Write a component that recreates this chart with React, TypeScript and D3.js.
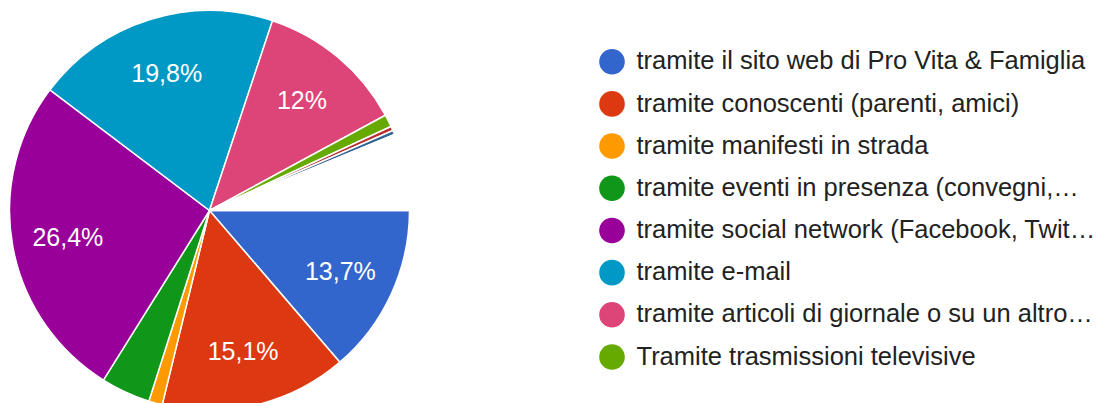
import React from "react";
import * as d3 from "d3";

const categories = [
  "tramite il sito web di Pro Vita & Famiglia",
  "tramite conoscenti (parenti, amici)",
  "tramite manifesti in strada",
  "tramite eventi in presenza (convegni,…",
  "tramite social network (Facebook, Twit…",
  "tramite e-mail",
  "tramite articoli di giornale o su un altro…",
  "Tramite trasmissioni televisive",
  "altro 1",
  "altro 2",
  "altre risposte",
];
const values = [13.7, 15.1, 1.1, 4.0, 26.4, 19.8, 12.0, 1.0, 0.35, 0.35, 6.2];
const colors = [
  "#3366cc", "#dc3912", "#ff9900", "#109618", "#990099",
  "#0099c6", "#dd4477", "#66aa00", "#b82e2e", "#316395", "#ffffff",
];
const legendCount = 8;

const W = 1101;
const H = 403;
const cx = 209.5;
const cy = 210.5;
const R = 200;

function fmt(v: number): string {
  const s = (Math.round(v * 10) / 10).toFixed(1).replace(/\.0$/, "");
  return s.replace(".", ",") + "%";
}

export default function App() {
  const data = categories.map((c, i) => ({ c, v: values[i], color: colors[i] }));
  const pie = d3
    .pie<any>()
    .sort(null)
    .value((d) => d.v)
    .startAngle(Math.PI / 2)
    .endAngle(Math.PI / 2 + 2 * Math.PI);
  const arcs = pie(data);
  const arc = d3.arc<any>().innerRadius(0).outerRadius(R);
  const labelArc = d3.arc<any>().innerRadius(R * 0.72).outerRadius(R * 0.72);

  const legendY = d3.scaleLinear().domain([0, legendCount - 1]).range([61.7, 357]);

  return (
    <svg
      width={W}
      height={H}
      style={{ position: "absolute", left: 0, top: 0, background: "#fff" }}
      fontFamily="'Liberation Sans', Arial, sans-serif"
    >
      <g transform={`translate(${cx},${cy})`}>
        {arcs.map((a, i) => (
          <path
            key={i}
            d={arc(a) || ""}
            fill={a.data.color}
            stroke="#fff"
            strokeWidth={1.5}
          />
        ))}
        {arcs.map((a, i) => {
          if (a.data.v < 5 || a.data.color === "#ffffff") return null;
          const [x, y] = labelArc.centroid(a);
          return (
            <text
              key={"l" + i}
              x={x}
              y={y}
              dy="0.36em"
              textAnchor="middle"
              fontSize={25}
              fill="#fff"
            >
              {fmt(a.data.v)}
            </text>
          );
        })}
      </g>
      <g>
        {data.slice(0, legendCount).map((d, i) => (
          <g key={"lg" + i} transform={`translate(612,${legendY(i)})`}>
            <circle r={12.8} fill={d.color} />
            <text x={24.5} dy="0.3em" fontSize={25.5} fill="#222">
              {d.c}
            </text>
          </g>
        ))}
      </g>
    </svg>
  );
}
